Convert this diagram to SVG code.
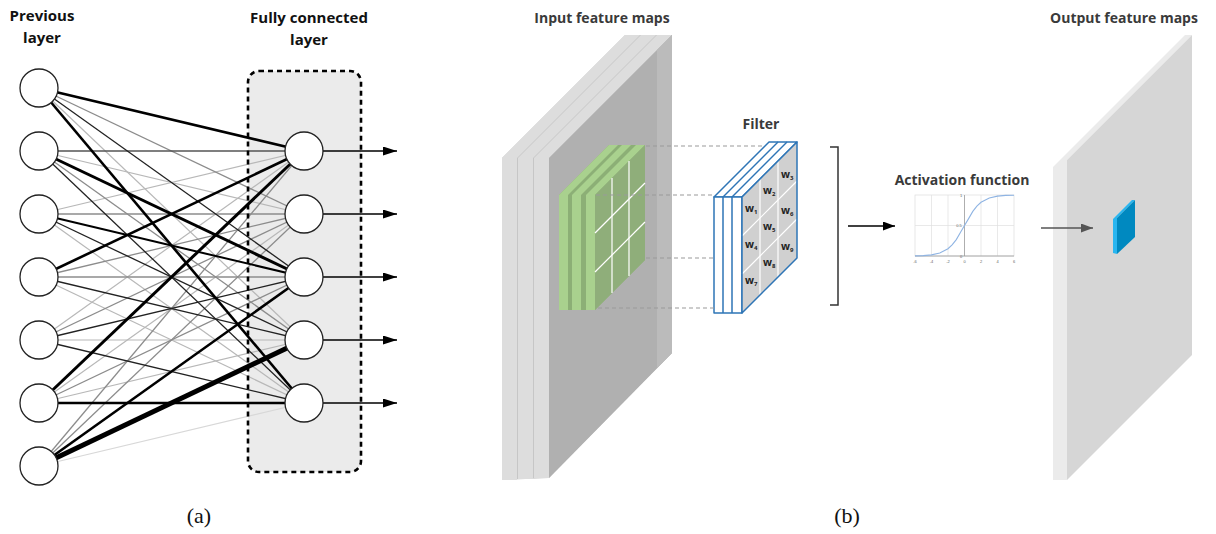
<svg xmlns="http://www.w3.org/2000/svg" width="1216" height="534" viewBox="0 0 1216 534">
<style>
.lbl{font-family:"Open Sans","Liberation Sans",sans-serif;font-weight:bold;font-size:15px;fill:#111;text-anchor:middle}
.lblb{font-family:"Open Sans","Liberation Sans",sans-serif;font-weight:bold;font-size:14px;fill:#3a3a3a;text-anchor:middle}
.cap{font-family:"Liberation Serif",serif;font-size:22px;fill:#111;text-anchor:middle}
.node{fill:#fff;stroke:#222;stroke-width:1.3}
.vl{stroke:#d8d8d8;stroke-width:1.2}
.l{stroke:#b8b8b8;stroke-width:1.2}
.g{stroke:#8c8c8c;stroke-width:1.3}
.m{stroke:#555;stroke-width:1.5}
.d{stroke:#222;stroke-width:1.3}
.k2{stroke:#000;stroke-width:2}
.k25{stroke:#000;stroke-width:2.6}
.k3{stroke:#000;stroke-width:3}
.k5{stroke:#000;stroke-width:5}
.out{stroke:#000;stroke-width:1.3;marker-end:url(#ah)}
.dash{stroke:#999;stroke-width:1.2;stroke-dasharray:4 3;fill:none}
.band{fill:#dddddd}
.gl{stroke:#fff;stroke-width:1.2}
.blue{stroke:#2e75b6;stroke-width:1.5;stroke-linejoin:round}
.w{font-family:"Open Sans","Liberation Sans",sans-serif;font-weight:bold;font-size:10.5px;fill:#222}
.ws{font-size:6px}
.tick{font-family:"Liberation Sans",sans-serif;font-size:4px;fill:#666;text-anchor:middle}
.grid{stroke:#e0e0e0;stroke-width:0.7}
</style>
<defs>
<marker id="ah" markerUnits="userSpaceOnUse" markerWidth="14" markerHeight="9" refX="14" refY="4.5" orient="auto"><path d="M0,0 L14,4.5 L0,9 z" fill="#000"/></marker>
<marker id="ahb" markerUnits="userSpaceOnUse" markerWidth="12" markerHeight="9" refX="12" refY="4.5" orient="auto"><path d="M0,0 L12,4.5 L0,9 z" fill="#000"/></marker>
<marker id="ahg" markerUnits="userSpaceOnUse" markerWidth="12" markerHeight="9" refX="12" refY="4.5" orient="auto"><path d="M0,0 L12,4.5 L0,9 z" fill="#555"/></marker>
</defs>
<rect width="1216" height="534" fill="#fff"/>

<!-- ===== (a) ===== -->
<text class="lbl" x="42" y="21">Previous</text>
<text class="lbl" x="42" y="43">layer</text>
<text class="lbl" x="309" y="23">Fully connected</text>
<text class="lbl" x="309" y="45">layer</text>
<rect id="fc-box-fill" x="248" y="71" width="113" height="401" rx="11" fill="#ebebeb"/>

<g id="connectors-a">
<line class="vl" x1="39" y1="466" x2="304" y2="403"/>
<line class="l" x1="39" y1="88" x2="304" y2="340"/>
<line class="l" x1="39" y1="151" x2="304" y2="214"/>
<line class="l" x1="39" y1="214" x2="304" y2="151"/>
<line class="l" x1="39" y1="214" x2="304" y2="403"/>
<line class="l" x1="39" y1="277" x2="304" y2="403"/>
<line class="l" x1="39" y1="340" x2="304" y2="151"/>
<line class="l" x1="39" y1="340" x2="304" y2="340"/>
<line class="l" x1="39" y1="403" x2="304" y2="214"/>
<line class="l" x1="39" y1="403" x2="304" y2="340"/>
<line class="g" x1="39" y1="88" x2="304" y2="214"/>
<line class="g" x1="39" y1="151" x2="304" y2="340"/>
<line class="g" x1="39" y1="214" x2="304" y2="214"/>
<line class="g" x1="39" y1="277" x2="304" y2="214"/>
<line class="g" x1="39" y1="277" x2="304" y2="277"/>
<line class="g" x1="39" y1="340" x2="304" y2="214"/>
<line class="g" x1="39" y1="403" x2="304" y2="277"/>
<line class="g" x1="39" y1="466" x2="304" y2="151"/>
<line class="g" x1="39" y1="466" x2="304" y2="214"/>
<line class="m" x1="39" y1="151" x2="304" y2="151"/>
<line class="d" x1="39" y1="88" x2="304" y2="277"/>
<line class="d" x1="39" y1="151" x2="304" y2="403"/>
<line class="d" x1="39" y1="214" x2="304" y2="340"/>
<line class="d" x1="39" y1="277" x2="304" y2="340"/>
<line class="d" x1="39" y1="340" x2="304" y2="277"/>
<line class="d" x1="39" y1="340" x2="304" y2="403"/>
<line class="k2" x1="39" y1="214" x2="304" y2="277"/>
<line class="k25" x1="39" y1="88" x2="304" y2="151"/>
<line class="k25" x1="39" y1="88" x2="304" y2="403"/>
<line class="k25" x1="39" y1="277" x2="304" y2="151"/>
<line class="k25" x1="39" y1="403" x2="304" y2="403"/>
<line class="k25" x1="39" y1="466" x2="304" y2="277"/>
<line class="k3" x1="39" y1="151" x2="304" y2="277"/>
<line class="k3" x1="39" y1="403" x2="304" y2="151"/>
<line class="k5" x1="39" y1="466" x2="304" y2="340"/>
<line class="out" x1="323" y1="151" x2="397" y2="151"/>
<line class="out" x1="323" y1="214" x2="397" y2="214"/>
<line class="out" x1="323" y1="277" x2="397" y2="277"/>
<line class="out" x1="323" y1="340" x2="397" y2="340"/>
<line class="out" x1="323" y1="403" x2="397" y2="403"/>
</g>
<rect id="fc-box" x="248" y="71" width="113" height="401" rx="11" fill="none" stroke="#000" stroke-width="2.6" stroke-dasharray="5 4"/>

<g id="prev-layer">
<circle class="node" cx="39" cy="88" r="19"/>
<circle class="node" cx="39" cy="151" r="19"/>
<circle class="node" cx="39" cy="214" r="19"/>
<circle class="node" cx="39" cy="277" r="19"/>
<circle class="node" cx="39" cy="340" r="19"/>
<circle class="node" cx="39" cy="403" r="19"/>
<circle class="node" cx="39" cy="466" r="19"/>
</g>
<g id="fc-layer">
<circle class="node" cx="304" cy="151" r="19"/>
<circle class="node" cx="304" cy="214" r="19"/>
<circle class="node" cx="304" cy="277" r="19"/>
<circle class="node" cx="304" cy="340" r="19"/>
<circle class="node" cx="304" cy="403" r="19"/>
</g>
<text class="cap" x="199" y="523">(a)</text>

<!-- ===== (b) ===== -->
<g id="input-maps">
<text class="lblb" x="602" y="23">Input feature maps</text>
<polygon points="502,480 502,158 625,35 672,35 672,353 549,478" fill="#c6c6c6"/>
<polygon class="band" points="502,480 502,158 625,35 640,35 517,158 517,480"/>
<polygon class="band" points="518,479 518,158 641,35 656,35 533,158 533,479"/>
<polygon class="band" points="534,478 534,158 657,35 672,35 549,158 549,478"/>
<polygon points="549,158 672,35 672,353 549,478" fill="#b0b0b0"/>
<polygon points="657,50 672,35 672,353 657,368" fill="#bbbbbb"/>
</g>

<g id="green-patch">
<polygon points="559,310 559,195 609,145 645,145 645,260 595,310" fill="#8caf76"/>
<polygon points="559,310 559,195 609,145 618,145 568,195 568,310" fill="#a9d18e"/>
<polygon points="572,310 572,195 622,145 631,145 581,195 581,310" fill="#a9d18e"/>
<polygon points="586,310 586,195 636,145 645,145 595,195 595,310" fill="#a9d18e"/>
<polygon points="595,195 645,145 645,260 595,310" fill="#8fae7a"/>
<line class="gl" x1="612" y1="178" x2="612" y2="293"/>
<line class="gl" x1="629" y1="161" x2="629" y2="276"/>
<line class="gl" x1="595" y1="233" x2="645" y2="183"/>
<line class="gl" x1="595" y1="272" x2="645" y2="222"/>
</g>

<g id="filter">
<text class="lblb" x="761" y="129">Filter</text>
<polygon points="714,197 769,142 797,142 742,197" fill="#fff" class="blue"/>
<line class="blue" x1="723" y1="197" x2="778" y2="142"/>
<line class="blue" x1="732" y1="197" x2="787" y2="142"/>
<rect x="714" y="197" width="28" height="116" fill="#fff" class="blue"/>
<line class="blue" x1="723" y1="197" x2="723" y2="313"/>
<line class="blue" x1="732" y1="197" x2="732" y2="313"/>
<polygon points="742,197 797,142 797,258 742,313" fill="#d0d0d0"/>
<line class="gl" x1="760" y1="179" x2="760" y2="295"/>
<line class="gl" x1="778" y1="161" x2="778" y2="277"/>
<line class="gl" x1="742" y1="236" x2="797" y2="181"/>
<line class="gl" x1="742" y1="274" x2="797" y2="219"/>
<polygon points="742,197 797,142 797,258 742,313" fill="none" class="blue"/>
<text class="w" x="745" y="212">w<tspan class="ws" dy="2">1</tspan></text>
<text class="w" x="763" y="194">w<tspan class="ws" dy="2">2</tspan></text>
<text class="w" x="781" y="178">w<tspan class="ws" dy="2">3</tspan></text>
<text class="w" x="745" y="248">w<tspan class="ws" dy="2">4</tspan></text>
<text class="w" x="763" y="230">w<tspan class="ws" dy="2">5</tspan></text>
<text class="w" x="781" y="214">w<tspan class="ws" dy="2">6</tspan></text>
<text class="w" x="745" y="284">w<tspan class="ws" dy="2">7</tspan></text>
<text class="w" x="763" y="266">w<tspan class="ws" dy="2">8</tspan></text>
<text class="w" x="781" y="250">w<tspan class="ws" dy="2">9</tspan></text>
</g>

<path id="bracket" d="M830,147 H838 V305 H830" fill="none" stroke="#333" stroke-width="1.5"/>

<g id="activation">
<text class="lblb" x="962" y="185">Activation function</text>
<rect x="915" y="195" width="99" height="61" fill="#fff" stroke="#ddd" stroke-width="0.7"/>
<line class="grid" x1="931.5" y1="195" x2="931.5" y2="256"/>
<line class="grid" x1="948" y1="195" x2="948" y2="256"/>
<line class="grid" x1="981" y1="195" x2="981" y2="256"/>
<line class="grid" x1="997.5" y1="195" x2="997.5" y2="256"/>
<line class="grid" x1="915" y1="225.5" x2="1014" y2="225.5"/>
<line x1="964.5" y1="195" x2="964.5" y2="256" stroke="#999" stroke-width="0.8"/>
<line x1="915" y1="256" x2="1014" y2="256" stroke="#999" stroke-width="0.8"/>
<polyline fill="none" stroke="#8fb4e3" stroke-width="1.1" points="915,255.9 923.3,255.6 931.5,254.9 939.8,253.1 948,248.7 952.1,244.9 956.3,239.6 960.4,232.4 964.5,225.5 968.6,218.6 972.8,211.4 976.9,206.1 981,202.3 989.3,197.9 997.5,196.1 1005.8,195.4 1014,195.2"/>
<text class="tick" x="961" y="197">1</text>
<text class="tick" x="959" y="227">0.5</text>
<text class="tick" x="961" y="258">0</text>
<text class="tick" x="915" y="263">-6</text>
<text class="tick" x="931.5" y="263">-4</text>
<text class="tick" x="948" y="263">-2</text>
<text class="tick" x="964.5" y="263">0</text>
<text class="tick" x="981" y="263">2</text>
<text class="tick" x="997.5" y="263">4</text>
<text class="tick" x="1014" y="263">6</text>
</g>

<g id="output-maps">
<text class="lblb" x="1124" y="23">Output feature maps</text>
<polygon points="1053,480 1053,167 1185,35 1192,35 1067,160 1067,480" fill="#ebebeb"/>
<polygon points="1067,160 1192,35 1192,355 1067,480" fill="#d6d6d6"/>
<polygon points="1113,219 1132,200 1135,200 1117,218 1117,254 1113,253" fill="#29b6f0"/>
<polygon points="1117,218 1135,200 1135,237 1117,254" fill="#0089c0"/>
</g>

<g id="connectors-b">
<line class="dash" x1="646" y1="146" x2="764" y2="146"/>
<line class="dash" x1="596" y1="195" x2="714" y2="195"/>
<line class="dash" x1="646" y1="258" x2="714" y2="258"/>
<line class="dash" x1="598" y1="308" x2="714" y2="308"/>
<line x1="848" y1="226" x2="895" y2="226" stroke="#000" stroke-width="1.3" marker-end="url(#ahb)"/>
<line x1="1041" y1="228" x2="1093" y2="228" stroke="#555" stroke-width="1.5" marker-end="url(#ahg)"/>
</g>
<text class="cap" x="847" y="523">(b)</text>
</svg>
